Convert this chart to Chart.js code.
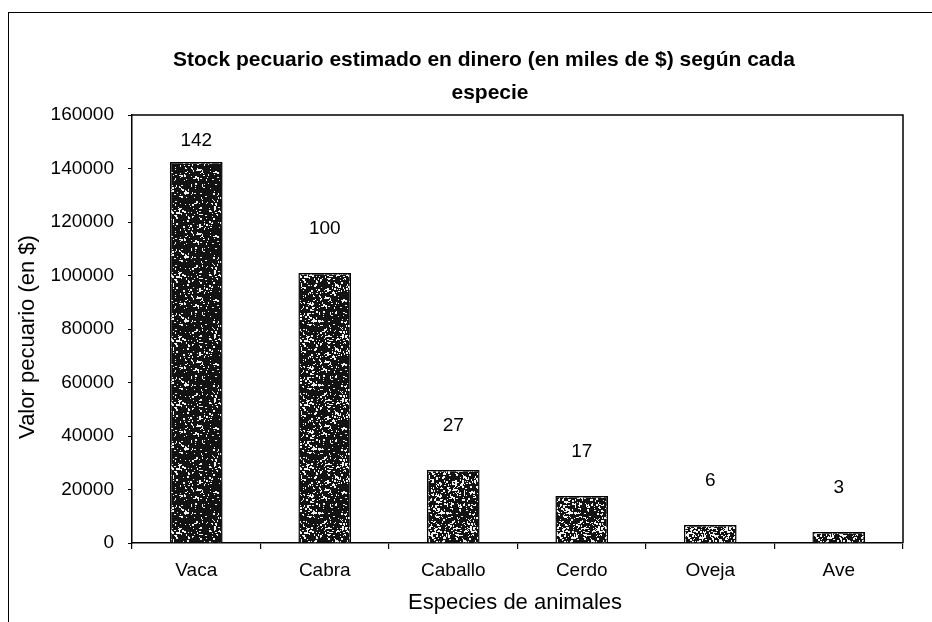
<!DOCTYPE html>
<html>
<head>
<meta charset="utf-8">
<script src="https://cdn.jsdelivr.net/npm/chart.js@4.4.1/dist/chart.umd.min.js"></script>
<style>
  html, body { margin: 0; padding: 0; background: #fff; }
  #wrap { position: relative; width: 932px; height: 622px; }
  #frame { position: absolute; left: 8px; top: 12px; right: 0; bottom: 0;
           border-left: 1px solid #000; border-top: 1px solid #000; }
  canvas { position: absolute; left: 0; top: 0; }
</style>
</head>
<body>
<div id="wrap">
  <div id="frame"></div>
  <canvas id="c" width="932" height="622"></canvas>
</div>
<script>
// data
var species = ["Vaca", "Cabra", "Caballo", "Cerdo", "Oveja", "Ave"];
var stockValues = [142400, 100900, 27300, 17600, 6700, 4100];
var labelText = ["142", "100", "27", "17", "6", "3"];
var yTicks = [0, 20000, 40000, 60000, 80000, 100000, 120000, 140000, 160000];
var titleLines = ["Stock pecuario estimado en dinero (en miles de $) según cada", "especie"];
var yTitle = "Valor pecuario (en $)";
var xTitle = "Especies de animales";

var FONT = "'Liberation Sans', Arial, sans-serif";

// speckled fill like the scanned print (deterministic hash, not data)
function speckle(density) {
  var n = 64;
  var cv = document.createElement("canvas");
  cv.width = n; cv.height = n;
  var g = cv.getContext("2d");
  g.fillStyle = "#121212";
  g.fillRect(0, 0, n, n);
  g.fillStyle = "#f2f2f2";
  for (var y = 0; y < n; y++) {
    for (var x = 0; x < n; x++) {
      var h = ((x * 374761393) ^ (y * 668265263)) >>> 0;
      h = Math.imul(h ^ (h >>> 13), 1274126177) >>> 0;
      h = (h ^ (h >>> 16)) >>> 0;
      if ((h % 1000) / 1000 < density) g.fillRect(x, y, 1 + (h >> 11) % 2, 1 + (h >> 12) % 2);
    }
  }
  return g.createPattern(cv, "repeat");
}
var densities = [0.12, 0.17, 0.24, 0.26, 0.34, 0.3];

var decorations = {
  id: "decorations",
  afterDraw: function(chart) {
    var a = chart.chartArea, g = chart.ctx;
    g.save();
    // plot area box (top and right edges)
    g.strokeStyle = "#000";
    g.lineWidth = 1.5;
    g.beginPath();
    g.moveTo(a.left, a.top); g.lineTo(a.right, a.top); g.lineTo(a.right, a.bottom);
    g.stroke();
    g.fillStyle = "#000";
    g.textAlign = "center";
    g.textBaseline = "middle";
    // title
    g.font = "bold 21px " + FONT;
    g.fillText(titleLines[0], 484, 60);
    g.fillText(titleLines[1], 490, 93);
    // axis titles
    g.font = "22px " + FONT;
    g.fillText(xTitle, 515, 603);
    g.save();
    g.translate(28, 337);
    g.rotate(-Math.PI / 2);
    g.fillText(yTitle, 0, 0);
    g.restore();
    // value labels above bars
    var meta = chart.getDatasetMeta(0);
    g.font = "19px " + FONT;
    meta.data.forEach(function(bar, i) {
      var y = Math.max(bar.y - 44, a.top + 26);
      g.fillText(labelText[i], bar.x, y);
    });
    g.restore();
  }
};

new Chart(document.getElementById("c").getContext("2d"), {
  type: "bar",
  data: {
    labels: species,
    datasets: [{
      data: stockValues,
      backgroundColor: densities.map(speckle),
      borderColor: "#000",
      borderWidth: 1.5,
      barPercentage: 0.41,
      categoryPercentage: 1
    }]
  },
  options: {
    responsive: false,
    animation: false,
    layout: { padding: { left: 8, right: 29, top: 115, bottom: 0 } },
    plugins: {
      legend: { display: false },
      tooltip: { enabled: false },
      title: { display: false }
    },
    scales: {
      x: {
        grid: { drawOnChartArea: false, color: "#000", lineWidth: 1.2, tickLength: 6, offset: true },
        border: { color: "#000", width: 1.5 },
        ticks: { color: "#000", font: { family: FONT, size: 19 }, padding: 10 },
        afterFit: function(s) { s.height = 79; }
      },
      y: {
        min: 0, max: 160000,
        afterBuildTicks: function(s) { s.ticks = yTicks.map(function(v) { return { value: v }; }); },
        grid: { drawOnChartArea: false, color: "#000", tickLength: 4 },
        border: { color: "#000", width: 1.5 },
        ticks: { color: "#000", font: { family: FONT, size: 19 }, padding: 14,
                 callback: function(v) { return String(v); } },
        afterFit: function(s) { s.width = 124; }
      }
    }
  },
  plugins: [decorations]
});
</script>
</body>
</html>
